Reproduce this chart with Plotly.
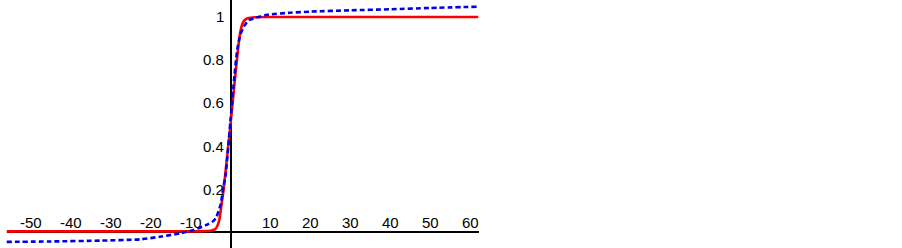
import plotly.graph_objects as go

# Data
red_x = [-56, -20, -10, -6.8, -5, -3.9, -3.3, -2.8, -2.2, -1.7, -0.8, 0, 1, 2, 2.5, 3, 3.5, 4.5, 6, 10, 20, 62]
red_y = [0.003, 0.003, 0.003, 0.004, 0.006, 0.012, 0.028, 0.056, 0.133, 0.2, 0.36, 0.5, 0.69, 0.87, 0.935, 0.97, 0.985, 0.995, 0.999, 1.0, 1.0, 1.0]

blue_x = [-56, -45, -32.5, -22.6, -17.6, -12.6, -9.3, -6, -4.2, -3.5, -2.4, -1.8, -1.25, 0, 1, 1.7, 2.5, 3.5, 4.6, 7, 9.2, 15, 20, 30, 40, 50, 62]
blue_y = [-0.046, -0.044, -0.04, -0.034, -0.022, -0.006, 0.009, 0.033, 0.052, 0.071, 0.133, 0.21, 0.26, 0.52, 0.73, 0.85, 0.92, 0.96, 0.985, 1.0, 1.01, 1.02, 1.025, 1.031, 1.036, 1.042, 1.048]

x_ticks = [-50, -40, -30, -20, -10, 10, 20, 30, 40, 50, 60]
x_tick_labels = ["-50", "-40", "-30", "-20", "-10", "10", "20", "30", "40", "50", "60"]
y_ticks = [0.2, 0.4, 0.6, 0.8, 1.0]
y_tick_labels = ["0.2", "0.4", "0.6", "0.8", "1"]

W, H = 902, 248
font = dict(family="Liberation Sans, Arial, sans-serif", size=15, color="black")

fig = go.Figure()
fig.add_trace(go.Scatter(x=red_x, y=red_y, mode="lines",
                         line=dict(color="#ff0000", width=2.6, shape="spline", smoothing=0.6),
                         hoverinfo="skip", showlegend=False))
fig.add_trace(go.Scatter(x=blue_x, y=blue_y, mode="lines",
                         line=dict(color="#0000ee", width=2.6, dash="5px,3px", shape="spline", smoothing=0.6),
                         hoverinfo="skip", showlegend=False))

annotations = []
for v, t in zip(x_ticks, x_tick_labels):
    annotations.append(dict(x=v, y=0, xref="x", yref="y", text=t, showarrow=False,
                            font=font, yanchor="bottom", yshift=-1))
for v, t in zip(y_ticks, y_tick_labels):
    annotations.append(dict(x=0, y=v, xref="x", yref="y", text=t, showarrow=False,
                            font=font, xanchor="right", xshift=-5))

x0_px, x1_px = 6.5, 478.5
fig.update_layout(
    width=W, height=H,
    margin=dict(l=0, r=0, t=0, b=0),
    paper_bgcolor="white", plot_bgcolor="white",
    hovermode=False,
    annotations=annotations,
    xaxis=dict(domain=[x0_px / W, x1_px / W], range=[-56, 62],
               showgrid=False, showticklabels=False, ticks="",
               zeroline=True, zerolinecolor="black", zerolinewidth=2, showline=False, fixedrange=True),
    yaxis=dict(domain=[0, 1], range=[-0.0744, 1.079],
               showgrid=False, showticklabels=False, ticks="",
               zeroline=True, zerolinecolor="black", zerolinewidth=2, showline=False, fixedrange=True),
)

fig.write_html("out.html", config=dict(displayModeBar=False),
               post_script="document.body.style.margin='0';document.body.style.overflow='hidden';")
